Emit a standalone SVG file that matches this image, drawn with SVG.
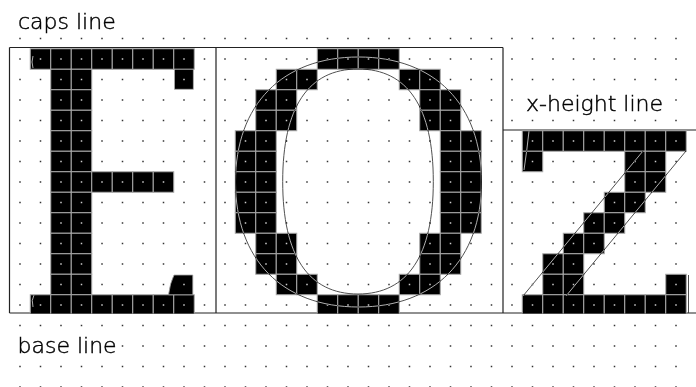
<svg xmlns="http://www.w3.org/2000/svg" xmlns:xlink="http://www.w3.org/1999/xlink" width="696" height="387" viewBox="0 0 696 387">
<style>
.px{fill:#000;stroke:#aaa;stroke-width:1}
.blk{fill:#000;stroke:#aaa;stroke-width:0.8}
.frame{fill:none;stroke:#222;stroke-width:1.2}
.blend{mix-blend-mode:difference}
.ol{fill:none;stroke:#c4c4c4;stroke-width:0.9}
.dots{stroke:#ccc;stroke-width:1.5;stroke-dasharray:1.5 19}
.lbl{font-family:"DejaVu Sans",sans-serif;font-size:22px;font-weight:300;fill:#000;stroke:#000;stroke-width:0.45}
.lblbg{fill:#fff}
</style>
<defs>
<rect id="px" class="px" width="20.5" height="20.5"/>
<clipPath id="abovebase"><rect x="0" y="0" width="696" height="313.4"/></clipPath>
</defs>
<rect width="696" height="387" fill="#fff"/>

<g id="connectors">
<path class="frame" d="M9.5 47.5H503M9.5 47.5V313M216 47.5V313M503 47.5V313M503 130H696M9.5 313H696"/>
</g>

<g id="glyph-E" clip-path="url(#abovebase)">
<use href="#px" x="30.25" y="48.75"/><use href="#px" x="50.75" y="48.75"/><use href="#px" x="71.25" y="48.75"/><use href="#px" x="91.75" y="48.75"/><use href="#px" x="112.25" y="48.75"/><use href="#px" x="132.75" y="48.75"/><use href="#px" x="153.25" y="48.75"/><use href="#px" x="173.75" y="48.75"/>
<use href="#px" x="50.75" y="69.25"/><use href="#px" x="71.25" y="69.25"/>
<use href="#px" x="50.75" y="89.75"/><use href="#px" x="71.25" y="89.75"/>
<use href="#px" x="50.75" y="110.25"/><use href="#px" x="71.25" y="110.25"/>
<use href="#px" x="50.75" y="130.75"/><use href="#px" x="71.25" y="130.75"/>
<use href="#px" x="50.75" y="151.25"/><use href="#px" x="71.25" y="151.25"/>
<use href="#px" x="50.75" y="171.75"/><use href="#px" x="71.25" y="171.75"/><use href="#px" x="91.75" y="171.75"/><use href="#px" x="112.25" y="171.75"/><use href="#px" x="132.75" y="171.75"/><use href="#px" x="153.25" y="171.75"/>
<use href="#px" x="50.75" y="192.25"/><use href="#px" x="71.25" y="192.25"/>
<use href="#px" x="50.75" y="212.75"/><use href="#px" x="71.25" y="212.75"/>
<use href="#px" x="50.75" y="233.25"/><use href="#px" x="71.25" y="233.25"/>
<use href="#px" x="50.75" y="253.75"/><use href="#px" x="71.25" y="253.75"/>
<use href="#px" x="50.75" y="274.25"/><use href="#px" x="71.25" y="274.25"/>
<use href="#px" x="30.25" y="294.75"/><use href="#px" x="50.75" y="294.75"/><use href="#px" x="71.25" y="294.75"/><use href="#px" x="91.75" y="294.75"/><use href="#px" x="112.25" y="294.75"/><use href="#px" x="132.75" y="294.75"/><use href="#px" x="153.25" y="294.75"/><use href="#px" x="173.75" y="294.75"/>
<rect class="blk" x="174.5" y="69.25" width="18.8" height="20"/>
<path class="blk" d="M174 275H192.8V294.75H168.5Q170 283 174 275Z"/>
</g>

<g id="glyph-O" clip-path="url(#abovebase)">
<use href="#px" x="317.25" y="48.75"/><use href="#px" x="337.75" y="48.75"/><use href="#px" x="358.25" y="48.75"/><use href="#px" x="378.75" y="48.75"/>
<use href="#px" x="276.25" y="69.25"/><use href="#px" x="296.75" y="69.25"/><use href="#px" x="399.25" y="69.25"/><use href="#px" x="419.75" y="69.25"/>
<use href="#px" x="255.75" y="89.75"/><use href="#px" x="276.25" y="89.75"/><use href="#px" x="419.75" y="89.75"/><use href="#px" x="440.25" y="89.75"/>
<use href="#px" x="255.75" y="110.25"/><use href="#px" x="276.25" y="110.25"/><use href="#px" x="419.75" y="110.25"/><use href="#px" x="440.25" y="110.25"/>
<use href="#px" x="235.25" y="130.75"/><use href="#px" x="255.75" y="130.75"/><use href="#px" x="440.25" y="130.75"/><use href="#px" x="460.75" y="130.75"/>
<use href="#px" x="235.25" y="151.25"/><use href="#px" x="255.75" y="151.25"/><use href="#px" x="440.25" y="151.25"/><use href="#px" x="460.75" y="151.25"/>
<use href="#px" x="235.25" y="171.75"/><use href="#px" x="255.75" y="171.75"/><use href="#px" x="440.25" y="171.75"/><use href="#px" x="460.75" y="171.75"/>
<use href="#px" x="235.25" y="192.25"/><use href="#px" x="255.75" y="192.25"/><use href="#px" x="440.25" y="192.25"/><use href="#px" x="460.75" y="192.25"/>
<use href="#px" x="235.25" y="212.75"/><use href="#px" x="255.75" y="212.75"/><use href="#px" x="440.25" y="212.75"/><use href="#px" x="460.75" y="212.75"/>
<use href="#px" x="255.75" y="233.25"/><use href="#px" x="276.25" y="233.25"/><use href="#px" x="419.75" y="233.25"/><use href="#px" x="440.25" y="233.25"/>
<use href="#px" x="255.75" y="253.75"/><use href="#px" x="276.25" y="253.75"/><use href="#px" x="419.75" y="253.75"/><use href="#px" x="440.25" y="253.75"/>
<use href="#px" x="276.25" y="274.25"/><use href="#px" x="296.75" y="274.25"/><use href="#px" x="399.25" y="274.25"/><use href="#px" x="419.75" y="274.25"/>
<use href="#px" x="317.25" y="294.75"/><use href="#px" x="337.75" y="294.75"/><use href="#px" x="358.25" y="294.75"/><use href="#px" x="378.75" y="294.75"/>
</g>

<g id="glyph-z" clip-path="url(#abovebase)">
<use href="#px" x="522.25" y="130.75"/><use href="#px" x="542.75" y="130.75"/><use href="#px" x="563.25" y="130.75"/><use href="#px" x="583.75" y="130.75"/><use href="#px" x="604.25" y="130.75"/><use href="#px" x="624.75" y="130.75"/><use href="#px" x="645.25" y="130.75"/><use href="#px" x="665.75" y="130.75"/>
<use href="#px" x="522.25" y="151.25"/><use href="#px" x="624.75" y="151.25"/><use href="#px" x="645.25" y="151.25"/>
<use href="#px" x="624.75" y="171.75"/><use href="#px" x="645.25" y="171.75"/>
<use href="#px" x="604.25" y="192.25"/><use href="#px" x="624.75" y="192.25"/>
<use href="#px" x="583.75" y="212.75"/><use href="#px" x="604.25" y="212.75"/>
<use href="#px" x="563.25" y="233.25"/><use href="#px" x="583.75" y="233.25"/>
<use href="#px" x="542.75" y="253.75"/><use href="#px" x="563.25" y="253.75"/>
<use href="#px" x="542.75" y="274.25"/><use href="#px" x="563.25" y="274.25"/><use href="#px" x="665.75" y="274.25"/>
<use href="#px" x="522.25" y="294.75"/><use href="#px" x="542.75" y="294.75"/><use href="#px" x="563.25" y="294.75"/><use href="#px" x="583.75" y="294.75"/><use href="#px" x="604.25" y="294.75"/><use href="#px" x="624.75" y="294.75"/><use href="#px" x="645.25" y="294.75"/><use href="#px" x="665.75" y="294.75"/>
</g>

<g id="outlines" class="blend">
<path class="ol" d="M33 56Q31 62 33 68M34 295Q31 300 33 307"/>
<path class="ol" d="M358.5 57C434.76 57 481.5 104.5 481.5 182C481.5 259.5 434.76 307 358.5 307C282.24 307 235.5 259.5 235.5 182C235.5 104.5 282.24 57 358.5 57Z"/>
<path class="ol" d="M358 69C407.7 69 433.3 107.25 433.3 181.5C433.3 255.75 407.7 294 358 294C308.3 294 282.7 255.75 282.7 181.5C282.7 107.25 308.3 69 358 69Z"/>
<path class="ol" d="M643 151L523 296M686 151L566 296M529 131Q527 150 524 170M688.5 275V313"/>
</g>

<g id="dotgrid" class="blend">
<line class="dots" x1="19.25" y1="38.5" x2="678" y2="38.5"/>
<line class="dots" x1="19.25" y1="59" x2="678" y2="59"/>
<line class="dots" x1="19.25" y1="79.5" x2="678" y2="79.5"/>
<line class="dots" x1="19.25" y1="100" x2="678" y2="100"/>
<line class="dots" x1="19.25" y1="120.5" x2="678" y2="120.5"/>
<line class="dots" x1="19.25" y1="141" x2="678" y2="141"/>
<line class="dots" x1="19.25" y1="161.5" x2="678" y2="161.5"/>
<line class="dots" x1="19.25" y1="182" x2="678" y2="182"/>
<line class="dots" x1="19.25" y1="202.5" x2="678" y2="202.5"/>
<line class="dots" x1="19.25" y1="223" x2="678" y2="223"/>
<line class="dots" x1="19.25" y1="243.5" x2="678" y2="243.5"/>
<line class="dots" x1="19.25" y1="264" x2="678" y2="264"/>
<line class="dots" x1="19.25" y1="284.5" x2="678" y2="284.5"/>
<line class="dots" x1="19.25" y1="305" x2="678" y2="305"/>
<line class="dots" x1="19.25" y1="325.5" x2="678" y2="325.5"/>
<line class="dots" x1="19.25" y1="346" x2="678" y2="346"/>
<line class="dots" x1="19.25" y1="366.5" x2="678" y2="366.5"/>
<line class="dots" x1="19.25" y1="387" x2="678" y2="387"/>
</g>

<g id="label-caps">
<text class="lbl" x="18" y="29">caps line</text>
</g>
<g id="label-xheight">
<rect class="lblbg" x="521" y="89" width="145" height="27"/>
<text class="lbl" x="526" y="110.5">x-height line</text>
</g>
<g id="label-base">
<rect class="lblbg" x="15" y="333" width="104" height="26"/>
<text class="lbl" x="17.5" y="352.5">base line</text>
</g>
</svg>
